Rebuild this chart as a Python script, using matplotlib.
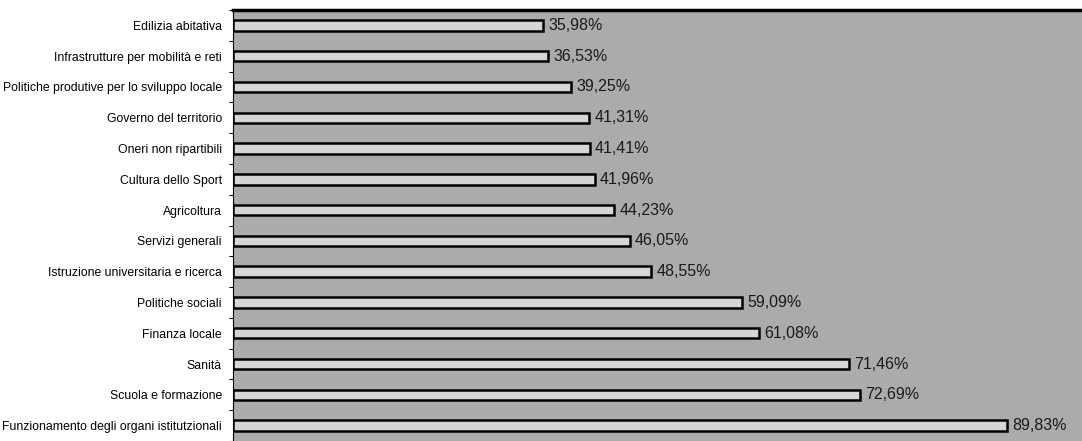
import numpy as np
import matplotlib.pyplot as plt

categories = [
    "Edilizia abitativa",
    "Infrastrutture per mobilità e reti",
    "Politiche produtive per lo sviluppo locale",
    "Governo del territorio",
    "Oneri non ripartibili",
    "Cultura dello Sport",
    "Agricoltura",
    "Servizi generali",
    "Istruzione universitaria e ricerca",
    "Politiche sociali",
    "Finanza locale",
    "Sanità",
    "Scuola e formazione",
    "Funzionamento degli organi istitutzionali",
]
values = [35.98, 36.53, 39.25, 41.31, 41.41, 41.96, 44.23,
          46.05, 48.55, 59.09, 61.08, 71.46, 72.69, 89.83]
value_labels = ["35,98%", "36,53%", "39,25%", "41,31%", "41,41%", "41,96%", "44,23%",
                "46,05%", "48,55%", "59,09%", "61,08%", "71,46%", "72,69%", "89,83%"]

plt.rcParams['font.family'] = ['Liberation Sans', 'DejaVu Sans']

fig = plt.figure(figsize=(10.82, 4.41), dpi=100)
ax = fig.add_axes([233 / 1082, 0, 849 / 1082, 431 / 441])
ax.set_facecolor('#ababab')

y = np.arange(len(categories))
ax.barh(y, values, height=0.34, color='#d6d6d6', edgecolor='black', linewidth=1.8)

for yi, v, lab in zip(y, values, value_labels):
    ax.text(v + 0.6, yi, lab, va='center', ha='left', fontsize=11.5, color='#1a1a1a')

ax.set_xlim(0, 98.5)
ax.set_ylim(13.27, -0.5)

ax.set_yticks(y)
ax.set_yticklabels(categories, fontsize=8.8)
ax.tick_params(axis='y', which='major', length=0, pad=8)
ax.set_yticks(np.arange(-0.5, len(categories), 1), minor=True)
ax.tick_params(axis='y', which='minor', length=3, width=0.8, direction='out')
ax.set_xticks([])

ax.spines['top'].set_linewidth(2.5)
ax.spines['left'].set_linewidth(0.8)
ax.spines['right'].set_visible(False)
ax.spines['bottom'].set_visible(False)

fig.savefig('out.png', dpi=100)
